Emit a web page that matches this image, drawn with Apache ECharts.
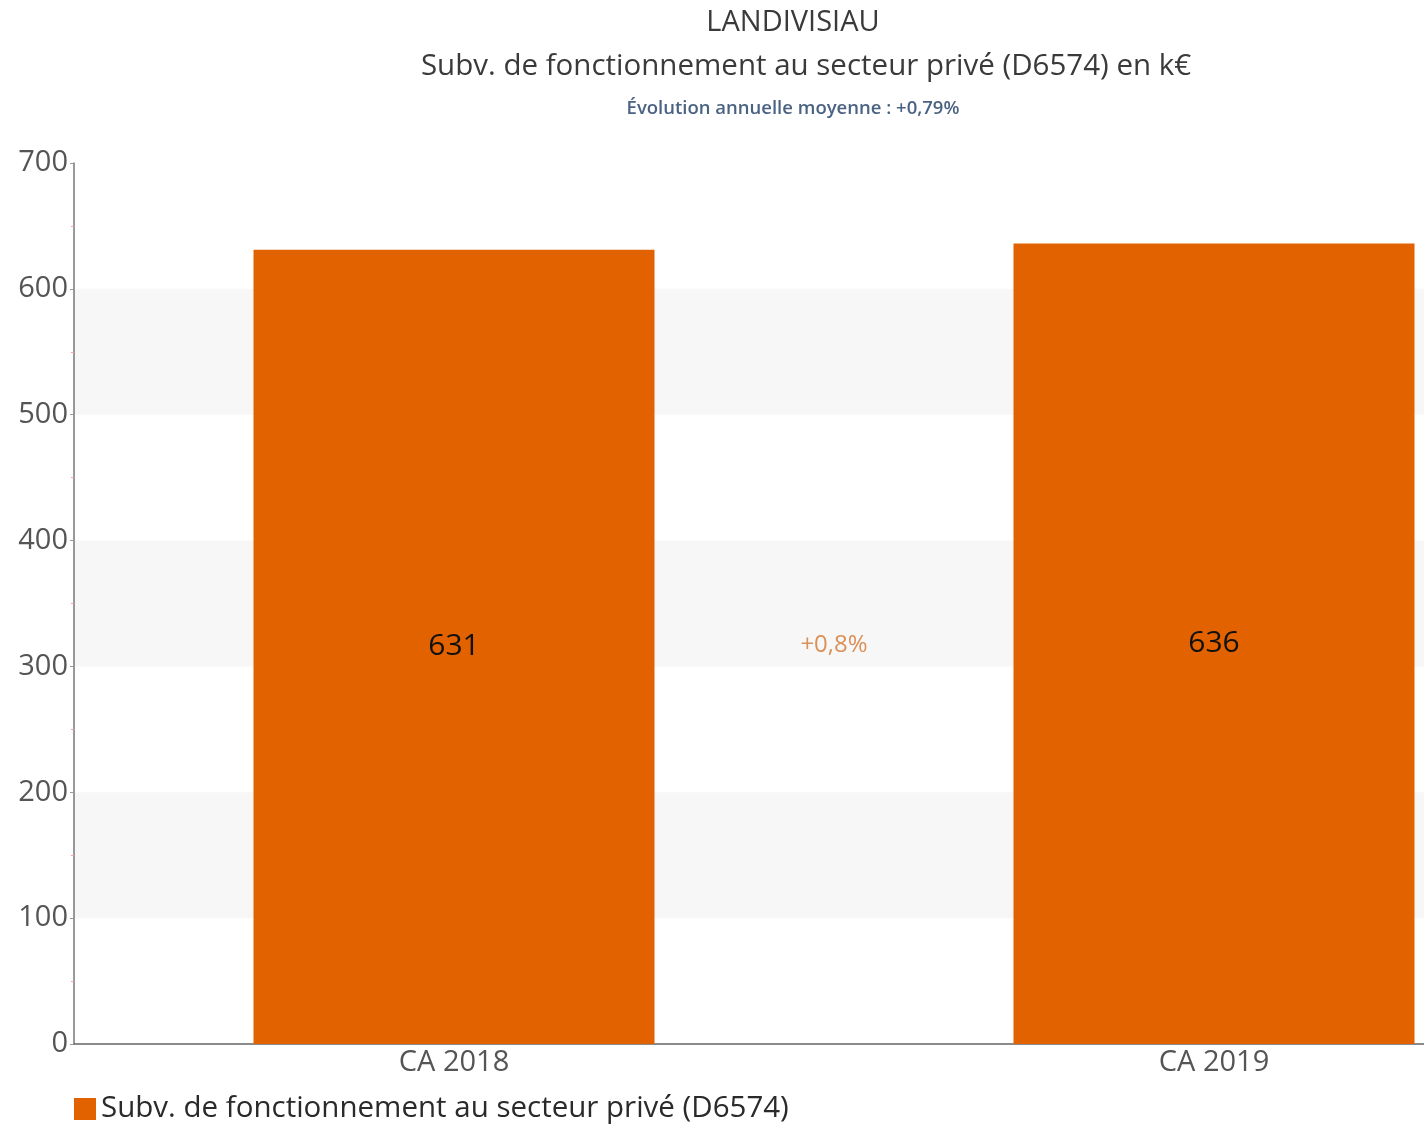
<!DOCTYPE html>
<html>
<head>
<meta charset="utf-8">
<script src="https://cdn.jsdelivr.net/npm/echarts@6/dist/echarts.min.js"></script>
<style>html,body{margin:0;padding:0;background:#fff}#c{width:1424px;height:1124px}</style>
</head>
<body>
<div id="c"></div>
<script>
const categories = ['CA 2018', 'CA 2019'];
const values = [631, 636];
const seriesName = 'Subv. de fonctionnement au secteur privé (D6574)';
const yTicks = [0, 100, 200, 300, 400, 500, 600, 700];
const titleText = 'LANDIVISIAU';
const subtitleText = 'Subv. de fonctionnement au secteur privé (D6574) en k€';
const evolutionText = 'Évolution annuelle moyenne : +0,79%';

const FONT = '"Open Sans", "Noto Sans", sans-serif';
const change = ((values[1] / values[0] - 1) * 100).toFixed(1).replace('.', ',');
const changeLabel = (values[1] >= values[0] ? '+' : '') + change + '%';

const chart = echarts.init(document.getElementById('c'));
chart.setOption({
  animation: false,
  backgroundColor: '#ffffff',
  textStyle: { fontFamily: FONT },
  title: [
    { text: titleText, left: 788, top: 3, textAlign: 'center',
      textStyle: { fontFamily: FONT, fontSize: 29, fontWeight: 'normal', color: '#3a3a3a' } },
    { text: subtitleText, left: 801, top: 47, textAlign: 'center',
      textStyle: { fontFamily: FONT, fontSize: 29.5, fontWeight: 'normal', color: '#3a3a3a' } },
    { text: evolutionText, left: 788, top: 94, textAlign: 'center',
      textStyle: { fontFamily: FONT, fontSize: 18.5, fontWeight: 600, color: '#4b6383' } }
  ],
  legend: {
    left: 74, top: 1094, icon: 'rect', itemWidth: 22, itemHeight: 22, padding: 0,
    textStyle: { fontFamily: FONT, fontSize: 29.5, color: '#2a2a2a' },
    data: [seriesName]
  },
  grid: { left: 74, width: 1520, top: 163, height: 881, outerBoundsMode: 'none', containLabel: false },
  xAxis: [
    { type: 'category', data: categories, boundaryGap: true,
      axisLine: { lineStyle: { color: '#666', width: 1.5 } },
      axisTick: { show: false },
      axisLabel: { fontFamily: FONT, fontSize: 29, color: '#555', margin: 4 } },
    { type: 'value', min: 0, max: categories.length * 2, show: false }
  ],
  yAxis: {
    type: 'value', min: yTicks[0], max: yTicks[yTicks.length - 1], interval: 100,
    axisLine: { show: true, lineStyle: { color: '#777', width: 1.5 } },
    axisTick: { show: true, inside: false, length: 4, lineStyle: { color: '#999' } },
    minorTick: { show: true, splitNumber: 2, length: 3, lineStyle: { color: '#f3a0a0' } },
    axisLabel: { fontFamily: FONT, fontSize: 29, color: '#555', margin: 6 },
    splitLine: { show: false },
    splitArea: { show: true, areaStyle: { color: ['rgba(255,255,255,0)', '#f7f7f7'] } }
  },
  series: [
    { name: seriesName, type: 'bar', data: values, barWidth: 401,
      itemStyle: { color: '#e36200' },
      label: { show: true, position: 'inside', fontFamily: FONT, fontSize: 30, color: '#111' } },
    { type: 'scatter', xAxisIndex: 1, symbolSize: 0, silent: true,
      data: [[2, (values[0] + values[1]) / 4]],
      label: { show: true, position: 'inside', formatter: changeLabel,
        fontFamily: FONT, fontSize: 24, color: '#d2762e' } }
  ]
});
</script>
</body>
</html>
